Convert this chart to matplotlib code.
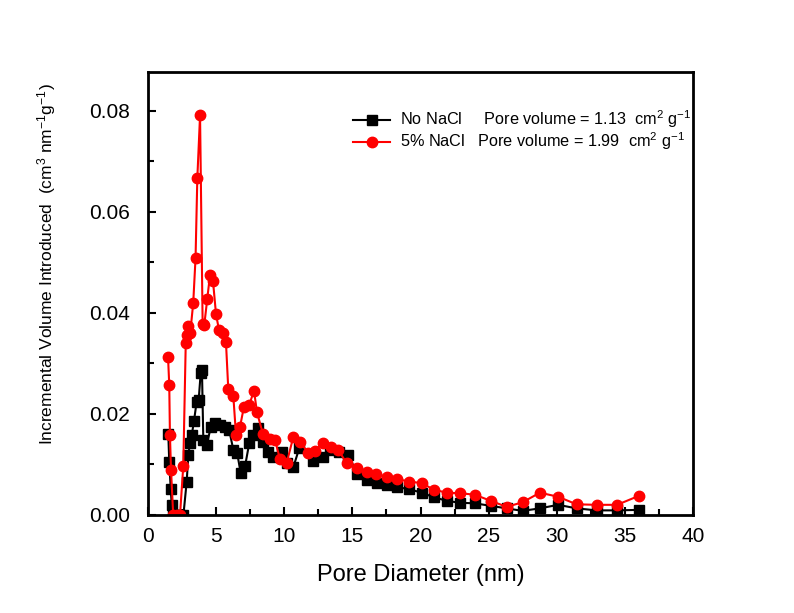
import matplotlib
matplotlib.use("Agg")
import matplotlib.pyplot as plt
from matplotlib.ticker import MultipleLocator

plt.rcParams['font.family'] = ['Liberation Sans', 'DejaVu Sans']
plt.rcParams['mathtext.fontset'] = 'custom'
plt.rcParams['mathtext.rm'] = 'Liberation Sans'
plt.rcParams['mathtext.it'] = 'Liberation Sans'

# pore size distribution, no salt
d_no = [1.49, 1.56, 1.67, 1.74, 1.85, 2.1, 2.35, 2.6, 2.84, 2.96, 3.08, 3.21,
        3.37, 3.57, 3.72, 3.87, 3.96, 4.06, 4.31, 4.62, 4.92, 5.28, 5.65, 5.96,
        6.26, 6.55, 6.8, 7.12, 7.43, 7.73, 8.09, 8.46, 8.83, 9.19, 9.81, 10.18,
        10.66, 11.1, 12.13, 12.82, 13.35, 14.01, 14.7, 15.36, 16.05, 16.78,
        17.51, 18.29, 19.17, 20.08, 20.98, 21.92, 22.89, 23.99, 25.14, 26.32,
        27.49, 28.76, 30.1, 31.45, 32.92, 34.43, 36.05]
v_no = [0.0160, 0.0104, 0.0051, 0.0020, 0.0, 0.0, 0.0, 0.0, 0.0066, 0.0119,
        0.0142, 0.0158, 0.0185, 0.0224, 0.0228, 0.0282, 0.0287, 0.0149, 0.0139,
        0.0175, 0.0182, 0.0178, 0.0175, 0.0168, 0.0129, 0.0122, 0.0083, 0.0096,
        0.0142, 0.0158, 0.0172, 0.0145, 0.0125, 0.0115, 0.0125, 0.0102, 0.0094,
        0.0132, 0.0106, 0.0114, 0.0129, 0.0125, 0.0119, 0.0081, 0.0069, 0.0064,
        0.0059, 0.0055, 0.0051, 0.0044, 0.0035, 0.0028, 0.0024, 0.0023, 0.0018,
        0.0013, 0.0008, 0.0013, 0.0020, 0.0013, 0.0009, 0.0009, 0.0010]

# pore size distribution, 5% NaCl
d_nacl = [1.47, 1.56, 1.61, 1.69, 1.85, 2.1, 2.35, 2.59, 2.77, 2.88, 2.95, 3.1,
          3.32, 3.49, 3.62, 3.82, 4.01, 4.13, 4.35, 4.55, 4.77, 4.99, 5.21,
          5.48, 5.72, 5.89, 6.26, 6.46, 6.75, 7.04, 7.43, 7.78, 8.0, 8.44,
          8.95, 9.32, 9.68, 10.18, 10.66, 11.15, 11.76, 12.25, 12.82, 13.43,
          13.96, 14.58, 15.31, 16.05, 16.73, 17.51, 18.29, 19.17, 20.08, 20.98,
          21.92, 22.89, 23.99, 25.14, 26.32, 27.49, 28.76, 30.1, 31.45, 32.92,
          34.43, 36.05]
v_nacl = [0.0313, 0.0257, 0.0158, 0.0089, 0.0, 0.0, 0.0, 0.0097, 0.0340,
          0.0356, 0.0374, 0.0360, 0.0420, 0.0509, 0.0667, 0.0791, 0.0378,
          0.0376, 0.0428, 0.0475, 0.0463, 0.0398, 0.0366, 0.0360, 0.0343,
          0.0250, 0.0236, 0.0158, 0.0174, 0.0214, 0.0218, 0.0246, 0.0203,
          0.0160, 0.0150, 0.0149, 0.0111, 0.0103, 0.0154, 0.0145, 0.0123,
          0.0127, 0.0143, 0.0135, 0.0129, 0.0102, 0.0092, 0.0085, 0.0081,
          0.0076, 0.0071, 0.0066, 0.0063, 0.0050, 0.0044, 0.0043, 0.0040,
          0.0028, 0.0016, 0.0025, 0.0044, 0.0036, 0.0021, 0.0020, 0.0020, 0.0038]

lbl_no = r'No NaCl     Pore volume = 1.13  cm$^{2}$ g$^{-1}$'
lbl_nacl = r'5% NaCl   Pore volume = 1.99  cm$^{2}$ g$^{-1}$'

fig = plt.figure(figsize=(7.94, 6.13), dpi=100)
ax = fig.add_axes([0.1864, 0.160, 0.6864, 0.7225])

ax.plot(d_no, v_no, '-s', color='black', lw=1.5, ms=6.5, label=lbl_no)
ax.plot(d_nacl, v_nacl, '-o', color='#ff0000', lw=1.5, ms=7.5, label=lbl_nacl)

ax.set_xlim(0, 40)
ax.set_ylim(0, 0.0877)
ax.xaxis.set_major_locator(MultipleLocator(5))
ax.xaxis.set_minor_locator(MultipleLocator(2.5))
ax.yaxis.set_major_locator(MultipleLocator(0.02))
ax.yaxis.set_minor_locator(MultipleLocator(0.01))
ax.yaxis.set_major_formatter(plt.FormatStrFormatter('%.2f'))

for s in ax.spines.values():
    s.set_linewidth(2)
ax.tick_params(which='both', direction='in', top=False, right=False,
               width=1.5, labelsize=15)
ax.tick_params(axis='y', pad=13)
ax.tick_params(axis='x', pad=9)
ax.tick_params(which='major', length=6)
ax.tick_params(which='minor', length=4)

ax.set_xlabel('Pore Diameter (nm)', fontsize=17, labelpad=13)
ax.set_ylabel(r'Incremental Volume Introduced  (cm$^{3}$ nm$^{-1}$g$^{-1}$)',
              fontsize=12.5)
ax.yaxis.set_label_coords(-0.165, 0.567)

ax.legend(loc='upper left', bbox_to_anchor=(0.349, 0.95), frameon=False,
          fontsize=11.7, handlelength=2.3, handletextpad=0.6, labelspacing=0.0)

fig.savefig('out.png', dpi=100, facecolor='white')
